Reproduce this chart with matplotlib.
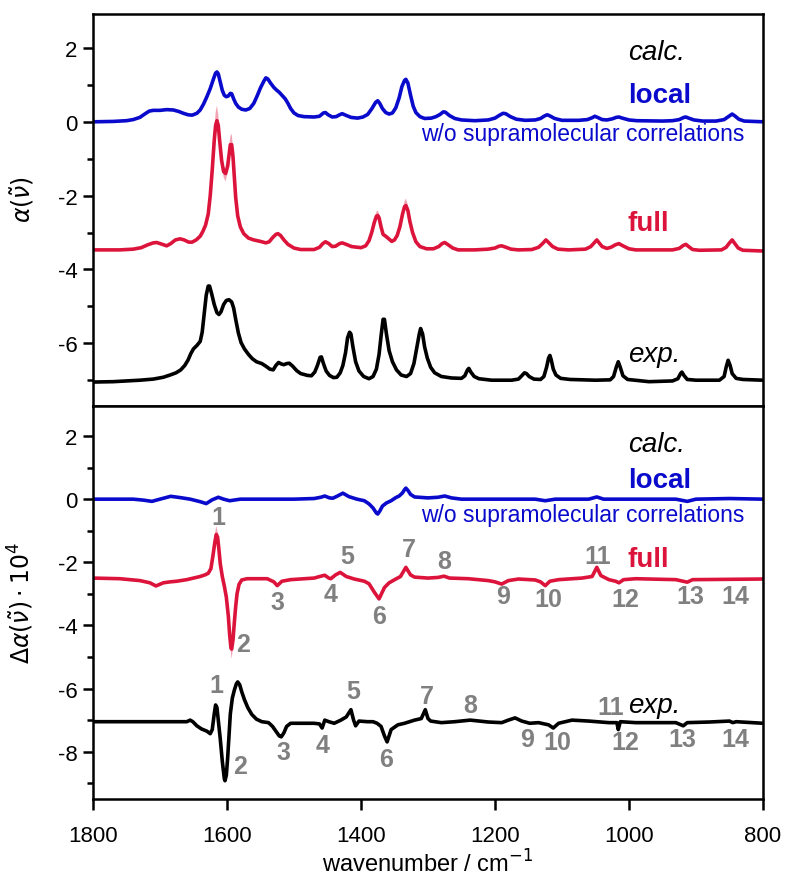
import numpy as np
import matplotlib
matplotlib.use("Agg")
import matplotlib.pyplot as plt

plt.rcParams['font.family'] = ['Liberation Sans', 'DejaVu Sans']
plt.rcParams['axes.unicode_minus'] = False

BLUE = '#0a0acd'
RED = '#dc143c'
GRAY = '#808080'

# ---- top panel: absorption spectra (offset) ----
wn_local_top = [1800, 1770, 1750, 1740, 1730, 1722, 1716, 1710, 1700, 1690, 1680, 1672, 1665, 1658,
                1652, 1645, 1640, 1635, 1630, 1625, 1620, 1617, 1615, 1613, 1610, 1607, 1604, 1601,
                1598, 1595, 1593, 1590, 1587, 1583, 1578, 1572, 1566, 1560, 1555, 1550, 1545, 1542,
                1539, 1535, 1530, 1526, 1522, 1517, 1513, 1509, 1505, 1500, 1494, 1485, 1470, 1462,
                1456, 1453, 1449, 1443, 1437, 1432, 1428, 1423, 1415, 1405, 1397, 1390, 1384, 1378,
                1375, 1372, 1368, 1363, 1358, 1353, 1348, 1343, 1339, 1335, 1333, 1330, 1326, 1322,
                1318, 1312, 1305, 1295, 1288, 1282, 1277, 1274, 1268, 1260, 1250, 1230, 1210, 1200,
                1193, 1188, 1184, 1177, 1168, 1155, 1140, 1132, 1126, 1122, 1118, 1111, 1100, 1075,
                1062, 1055, 1051, 1047, 1040, 1033, 1025, 1019, 1015, 1010, 1000, 988, 950, 935,
                925, 918, 915, 911, 903, 890, 870, 858, 850, 846, 842, 836, 828, 800]
alpha_local_top = [0.0, 0.01, 0.03, 0.06, 0.12, 0.22, 0.29, 0.31, 0.31, 0.33, 0.32, 0.28, 0.23, 0.19,
                   0.18, 0.23, 0.32, 0.48, 0.68, 0.9, 1.17, 1.32, 1.35, 1.3, 1.08, 0.85, 0.72, 0.68,
                   0.7, 0.77, 0.76, 0.62, 0.5, 0.4, 0.34, 0.32, 0.36, 0.5, 0.7, 0.92, 1.1, 1.19,
                   1.16, 1.05, 0.93, 0.86, 0.8, 0.7, 0.62, 0.5, 0.36, 0.24, 0.17, 0.14, 0.13, 0.15,
                   0.24, 0.25, 0.19, 0.13, 0.14, 0.19, 0.22, 0.18, 0.12, 0.1, 0.13, 0.2, 0.35, 0.53,
                   0.57, 0.5, 0.36, 0.25, 0.21, 0.24, 0.38, 0.65, 0.95, 1.12, 1.15, 1.05, 0.72, 0.42,
                   0.25, 0.14, 0.09, 0.1, 0.14, 0.2, 0.27, 0.26, 0.17, 0.09, 0.05, 0.03, 0.05, 0.1,
                   0.18, 0.23, 0.22, 0.14, 0.07, 0.04, 0.05, 0.09, 0.16, 0.19, 0.16, 0.09, 0.04, 0.04,
                   0.06, 0.11, 0.15, 0.12, 0.06, 0.05, 0.08, 0.12, 0.13, 0.1, 0.05, 0.03, 0.02, 0.03,
                   0.06, 0.12, 0.13, 0.1, 0.05, 0.02, 0.02, 0.06, 0.16, 0.21, 0.16, 0.07, 0.02, 0.0]

wn_full_top = [1800, 1760, 1740, 1728, 1718, 1710, 1705, 1698, 1690, 1684, 1677, 1670, 1664, 1657,
               1652, 1646, 1640, 1636, 1632, 1628, 1625, 1622, 1619, 1617, 1615, 1613, 1611, 1608,
               1605, 1602, 1599, 1597, 1595, 1593, 1591, 1589, 1587, 1584, 1580, 1575, 1568, 1560,
               1550, 1542, 1537, 1532, 1527, 1524, 1520, 1515, 1509, 1500, 1490, 1470, 1462, 1457,
               1453, 1448, 1443, 1438, 1432, 1428, 1422, 1414, 1400, 1393, 1388, 1384, 1380, 1377,
               1375, 1373, 1370, 1367, 1363, 1358, 1354, 1350, 1346, 1342, 1338, 1335, 1333, 1330,
               1327, 1323, 1318, 1312, 1302, 1292, 1284, 1279, 1275, 1270, 1263, 1255, 1230, 1210,
               1200, 1194, 1190, 1185, 1176, 1165, 1145, 1135, 1129, 1124, 1120, 1114, 1106, 1090,
               1065, 1057, 1052, 1048, 1045, 1040, 1033, 1027, 1020, 1015, 1009, 1000, 990, 935,
               925, 919, 915, 911, 905, 895, 862, 855, 850, 846, 842, 837, 830, 800]
alpha_full_top = [-3.47, -3.47, -3.45, -3.41, -3.33, -3.28, -3.27, -3.31, -3.36, -3.3, -3.2, -3.17, -3.2, -3.26,
                  -3.26, -3.2, -3.1, -2.97, -2.8, -2.5, -2.0, -1.3, -0.5, -0.1, 0.03, -0.1, -0.5, -1.05,
                  -1.35, -1.4, -1.2, -0.9, -0.62, -0.62, -0.95, -1.5, -2.05, -2.55, -2.85, -3.03, -3.15, -3.2,
                  -3.24, -3.28, -3.25, -3.14, -3.05, -3.03, -3.08, -3.2, -3.32, -3.42, -3.46, -3.46, -3.4, -3.3,
                  -3.25, -3.3, -3.38, -3.37, -3.3, -3.28, -3.32, -3.38, -3.41, -3.36, -3.22, -3.0, -2.72, -2.56,
                  -2.54, -2.6, -2.85, -3.05, -3.1, -3.18, -3.24, -3.2, -3.08, -2.85, -2.5, -2.3, -2.27, -2.4,
                  -2.7, -3.0, -3.25, -3.38, -3.44, -3.44, -3.38, -3.3, -3.27, -3.33, -3.42, -3.47, -3.47, -3.45,
                  -3.42, -3.37, -3.36, -3.39, -3.45, -3.47, -3.46, -3.4, -3.3, -3.2, -3.27, -3.38, -3.45, -3.47,
                  -3.45, -3.38, -3.28, -3.2, -3.27, -3.38, -3.43, -3.4, -3.33, -3.3, -3.36, -3.44, -3.47, -3.47,
                  -3.43, -3.35, -3.32, -3.38, -3.46, -3.48, -3.47, -3.4, -3.28, -3.2, -3.3, -3.42, -3.48, -3.5]

# spread of the full calculation (light band), nan separates segments
wn_band_top = [1622, 1619, 1617, 1615, 1613, 1611, 1608, 1605, 1602, 1599, 1597, 1595, 1593, 1591, 1589,
               np.nan, 1380, 1377, 1375, 1373, 1370, np.nan, 1338, 1335, 1333, 1330, 1327]
lo_band_top = [-1.4, -0.6, -0.2, -0.05, -0.2, -0.6, -1.15, -1.5, -1.62, -1.35, -1.0, -0.7, -0.7, -1.05, -1.6,
               np.nan, -2.78, -2.62, -2.6, -2.66, -2.9, np.nan, -2.55, -2.36, -2.33, -2.46, -2.75]
hi_band_top = [-1.1, -0.3, 0.25, 0.44, 0.2, -0.3, -0.9, -1.2, -1.3, -1.05, -0.7, -0.4, -0.32, -0.7, -1.35,
               np.nan, -2.6, -2.44, -2.4, -2.48, -2.75, np.nan, -2.4, -2.15, -2.08, -2.25, -2.6]

wn_exp_top = [1800, 1770, 1750, 1730, 1710, 1695, 1685, 1676, 1669, 1663, 1658, 1654, 1650, 1645,
              1640, 1637, 1634, 1631, 1628, 1626, 1623, 1619, 1615, 1612, 1609, 1605, 1601, 1597,
              1593, 1590, 1587, 1583, 1579, 1574, 1568, 1562, 1556, 1548, 1542, 1536, 1531, 1527,
              1523, 1519, 1515, 1511, 1507, 1502, 1496, 1490, 1480, 1474, 1469, 1465, 1461, 1459,
              1456, 1452, 1447, 1441, 1436, 1431, 1427, 1423, 1420, 1417, 1415, 1412, 1408, 1403,
              1396, 1388, 1382, 1377, 1373, 1370, 1367, 1365, 1362, 1358, 1353, 1347, 1340, 1332,
              1326, 1321, 1317, 1313, 1311, 1308, 1305, 1301, 1296, 1290, 1280, 1265, 1250, 1245,
              1241, 1239, 1236, 1231, 1224, 1205, 1175, 1165, 1160, 1156, 1153, 1149, 1142, 1132,
              1127, 1123, 1120, 1118, 1116, 1113, 1109, 1102, 1088, 1050, 1028, 1023, 1019, 1016,
              1013, 1009, 1002, 970, 935, 927, 923, 921, 918, 913, 900, 865, 858, 855, 852, 849,
              846, 840, 830, 800]
alpha_exp_top = [-7.05, -7.04, -7.02, -7.0, -6.97, -6.92, -6.86, -6.8, -6.72, -6.6, -6.45, -6.28, -6.15, -6.06,
                 -5.95, -5.7, -5.2, -4.7, -4.45, -4.45, -4.65, -4.95, -5.17, -5.22, -5.15, -4.95, -4.84, -4.82,
                 -4.88, -5.05, -5.35, -5.72, -5.98, -6.15, -6.3, -6.42, -6.5, -6.55, -6.62, -6.7, -6.72, -6.6,
                 -6.52, -6.56, -6.58, -6.55, -6.54, -6.62, -6.74, -6.82, -6.87, -6.88, -6.78, -6.6, -6.38, -6.37,
                 -6.55, -6.75, -6.87, -6.93, -6.92, -6.8, -6.6, -6.25, -5.85, -5.7, -5.75, -6.1, -6.5, -6.75,
                 -6.9, -6.96, -6.9, -6.7, -6.3, -5.8, -5.35, -5.35, -5.75, -6.2, -6.5, -6.72, -6.86, -6.9,
                 -6.82, -6.55, -6.15, -5.75, -5.6, -5.75, -6.1, -6.4, -6.65, -6.8, -6.9, -6.94, -6.95, -6.88,
                 -6.72, -6.68, -6.78, -6.9, -6.96, -7.0, -7.0, -6.97, -6.88, -6.8, -6.82, -6.9, -6.97, -6.98,
                 -6.9, -6.65, -6.4, -6.33, -6.45, -6.7, -6.86, -6.95, -6.98, -7.0, -6.99, -6.9, -6.65, -6.5,
                 -6.65, -6.88, -6.98, -7.04, -7.02, -6.96, -6.82, -6.78, -6.87, -6.98, -7.0, -7.0, -6.9, -6.65, -6.46, -6.6,
                 -6.82, -6.95, -6.98, -7.0]

# ---- bottom panel: VCD spectra (offset) ----
wn_local_bot = [1800, 1740, 1725, 1712, 1700, 1684, 1670, 1655, 1640, 1631, 1622, 1613, 1605, 1596,
                1580, 1500, 1470, 1460, 1454, 1447, 1442, 1435, 1427, 1418, 1406, 1395, 1388, 1382,
                1377, 1375, 1372, 1368, 1362, 1355, 1348, 1343, 1338, 1335, 1333, 1330, 1326, 1320,
                1300, 1285, 1275, 1265, 1250, 1140, 1125, 1110, 1060, 1048, 1038, 930, 913, 900,
                850, 800]
dalpha_local_bot = [0.0, 0.0, -0.03, -0.07, 0.0, 0.09, 0.05, 0.0, -0.08, -0.14, -0.02, 0.06, 0.0, -0.05,
                    0.0, 0.0, 0.02, 0.06, 0.1, 0.04, 0.03, 0.1, 0.19, 0.08, 0.0, -0.05, -0.15, -0.28,
                    -0.44, -0.47, -0.38, -0.22, -0.12, -0.05, 0.05, 0.1, 0.2, 0.3, 0.35, 0.28, 0.15, 0.07,
                    0.04, 0.06, 0.1, 0.04, 0.0, 0.0, -0.05, 0.0, 0.0, 0.07, 0.0, 0.0, -0.07, 0.0,
                    0.02, 0.0]

wn_full_bot = [1800, 1760, 1730, 1715, 1706, 1695, 1685, 1675, 1660, 1650, 1640, 1633, 1628, 1624,
               1621, 1618, 1616, 1614, 1612, 1610, 1607, 1604, 1601, 1598, 1596, 1594, 1593, 1591,
               1589, 1587, 1585, 1582, 1578, 1570, 1540, 1530, 1525, 1518, 1505, 1470, 1458, 1454,
               1448, 1445, 1438, 1431, 1422, 1410, 1395, 1388, 1380, 1373, 1365, 1358, 1348, 1341,
               1333, 1326, 1320, 1300, 1285, 1276, 1268, 1240, 1210, 1200, 1190, 1180, 1165, 1140,
               1132, 1125, 1118, 1105, 1070, 1055, 1048, 1042, 1030, 1020, 1015, 1008, 990, 930,
               913, 905, 800]
dalpha_full_bot = [-2.5, -2.52, -2.58, -2.65, -2.75, -2.65, -2.62, -2.6, -2.55, -2.5, -2.45, -2.4, -2.35, -2.2,
                   -1.8, -1.35, -1.12, -1.2, -1.6, -2.05, -2.45, -2.75, -3.1, -3.7, -4.3, -4.72, -4.75, -4.45,
                   -3.9, -3.4, -3.0, -2.7, -2.56, -2.52, -2.52, -2.62, -2.74, -2.6, -2.55, -2.5, -2.43, -2.41,
                   -2.5, -2.52, -2.4, -2.32, -2.45, -2.53, -2.6, -2.68, -2.95, -3.16, -2.8, -2.65, -2.53, -2.45,
                   -2.16, -2.4, -2.47, -2.5, -2.48, -2.44, -2.5, -2.52, -2.58, -2.62, -2.69, -2.58, -2.53, -2.56,
                   -2.62, -2.74, -2.6, -2.55, -2.5, -2.45, -2.16, -2.42, -2.55, -2.6, -2.65, -2.55, -2.52, -2.55,
                   -2.63, -2.55, -2.53]

wn_band_bot = [1619, 1616, 1613, np.nan, 1596, 1594, 1593, 1591, 1589]
lo_band_bot = [-1.5, -1.2, -1.4, np.nan, -4.4, -4.9, -5.06, -4.7, -4.0]
hi_band_bot = [-1.25, -0.85, -1.1, np.nan, -4.2, -4.6, -4.65, -4.35, -3.8]

wn_exp_bot = [1800, 1700, 1660, 1655, 1651, 1645, 1638, 1630, 1625, 1622, 1619, 1617, 1615, 1613,
              1610, 1607, 1604, 1603, 1601, 1599, 1597, 1595, 1592, 1589, 1586, 1584, 1581, 1578,
              1574, 1569, 1563, 1556, 1548, 1538, 1532, 1527, 1522, 1519, 1515, 1511, 1505, 1470,
              1462, 1458, 1454, 1448, 1440, 1430, 1422, 1415, 1411, 1408, 1403, 1390, 1382, 1376,
              1370, 1365, 1361, 1355, 1345, 1335, 1320, 1310, 1304, 1300, 1296, 1280, 1260, 1237,
              1210, 1190, 1180, 1170, 1160, 1148, 1135, 1120, 1113, 1105, 1085, 1060, 1030, 1018,
              1016, 1013, 990, 930, 919, 913, 880, 850, 845, 840, 800]
dalpha_exp_bot = [-7.05, -7.05, -7.05, -7.0, -7.05, -7.18, -7.28, -7.35, -7.43, -7.3, -6.8, -6.52, -6.6, -7.0,
                  -7.6, -8.3, -8.85, -8.92, -8.75, -8.2, -7.5, -6.8, -6.3, -6.05, -5.85, -5.79, -5.88, -6.1,
                  -6.35, -6.6, -6.82, -6.97, -7.05, -7.08, -7.2, -7.35, -7.5, -7.53, -7.4, -7.2, -7.1, -7.1,
                  -7.12, -7.25, -7.0, -7.05, -7.1, -7.0, -6.9, -6.67, -7.0, -7.18, -7.03, -7.05, -7.05, -7.1,
                  -7.2, -7.5, -7.69, -7.3, -7.15, -7.1, -7.0, -6.95, -6.67, -6.95, -7.03, -7.08, -7.05, -7.0,
                  -7.06, -7.08, -7.0, -6.93, -7.03, -7.1, -7.08, -7.15, -7.25, -7.1, -7.0, -7.03, -7.08, -7.08,
                  -7.3, -7.05, -7.08, -7.08, -7.18, -7.08, -7.06, -7.03, -7.08, -7.05, -7.1]

# band assignment labels
peak_labels = [str(i) for i in range(1, 15)]
lab_wn_full = [1613, 1576, 1524, 1446, 1421, 1373, 1328, 1276, 1188, 1121, 1046, 1006, 909, 842]
lab_y_full = [-0.57, -4.59, -3.27, -3.0, -1.8, -3.7, -1.58, -1.95, -3.07, -3.16, -1.8, -3.16, -3.07, -3.07]
lab_wn_exp = [1616, 1581, 1516, 1457, 1412, 1363, 1302, 1237, 1152, 1107, 1028, 1006, 921, 842]
lab_y_exp = [-5.9, -8.45, -8.0, -7.8, -6.07, -8.23, -6.23, -6.52, -7.6, -7.7, -6.58, -7.7, -7.6, -7.6]

xticks = [1800, 1600, 1400, 1200, 1000, 800]

fig = plt.figure(figsize=(7.86, 8.78), dpi=100)
ax1 = fig.add_axes([0.1183, 0.5364, 0.8524, 0.4465])
ax2 = fig.add_axes([0.1183, 0.0888, 0.8524, 0.4476])

lw = 2.6
ax1.fill_between(wn_band_top, lo_band_top, hi_band_top, color=RED, alpha=0.38, lw=0)
ax1.plot(wn_local_top, alpha_local_top, color=BLUE, lw=lw)
ax1.plot(wn_full_top, alpha_full_top, color=RED, lw=lw)
ax1.plot(wn_exp_top, alpha_exp_top, color='black', lw=lw)

ax2.fill_between(wn_band_bot, lo_band_bot, hi_band_bot, color=RED, alpha=0.38, lw=0)
ax2.plot(wn_local_bot, dalpha_local_bot, color=BLUE, lw=lw)
ax2.plot(wn_full_bot, dalpha_full_bot, color=RED, lw=lw)
ax2.plot(wn_exp_bot, dalpha_exp_bot, color='black', lw=lw)

for lab, x, y in zip(peak_labels, lab_wn_full, lab_y_full):
    ax2.text(x, y, lab, color=GRAY, fontsize=18, fontweight='bold', ha='center', va='center')
for lab, x, y in zip(peak_labels, lab_wn_exp, lab_y_exp):
    ax2.text(x, y, lab, color=GRAY, fontsize=18, fontweight='bold', ha='center', va='center')

# legend-like annotations
xt = 1002
for ax, yc in [(ax1, (1.88, 0.72, -0.33, -2.74, -6.3)), (ax2, (1.76, 0.6, -0.5, -1.9, -6.52))]:
    ax.text(xt, yc[0], 'calc.', style='italic', fontsize=20, ha='left', va='center')
    ax.text(xt, yc[1], 'local', color=BLUE, fontweight='bold', fontsize=20, ha='left', va='center')
    ax.text(1310, yc[2], 'w/o supramolecular correlations', color=BLUE, fontsize=16.5,
            ha='left', va='center')
    ax.text(xt, yc[3], 'full', color=RED, fontweight='bold', fontsize=20, ha='left', va='center')
    ax.text(xt, yc[4], 'exp.', style='italic', fontsize=20, ha='left', va='center')

for ax in (ax1, ax2):
    ax.set_xlim(1800, 800)
    for s in ax.spines.values():
        s.set_linewidth(1.8)
    ax.tick_params(axis='y', which='major', length=7, width=1.8, labelsize=16, pad=4)
    ax.tick_params(axis='y', which='minor', length=4, width=1.8)

ax1.set_ylim(-7.7, 2.92)
ax1.set_yticks([2, 0, -2, -4, -6])
ax1.set_yticks([1, -1, -3, -5, -7], minor=True)
ax1.set_xticks([])

ax2.set_ylim(-9.5, 2.95)
ax2.set_yticks([2, 0, -2, -4, -6, -8])
ax2.set_yticks([1, -1, -3, -5, -7, -9], minor=True)
ax2.set_xticks(xticks)
ax2.tick_params(axis='x', length=8, width=1.8, labelsize=16, pad=11)
ax2.set_xlabel('wavenumber / cm$^{-1}$', fontsize=17, labelpad=2)

ax1.set_ylabel(r'$\alpha(\tilde{\nu})$', fontsize=17)
ax2.set_ylabel(r'$\Delta\alpha(\tilde{\nu})\cdot10^4$', fontsize=17)
ax1.yaxis.set_label_coords(-0.085, 0.53)
ax2.yaxis.set_label_coords(-0.085, 0.5)

fig.savefig('out.png', dpi=100)
